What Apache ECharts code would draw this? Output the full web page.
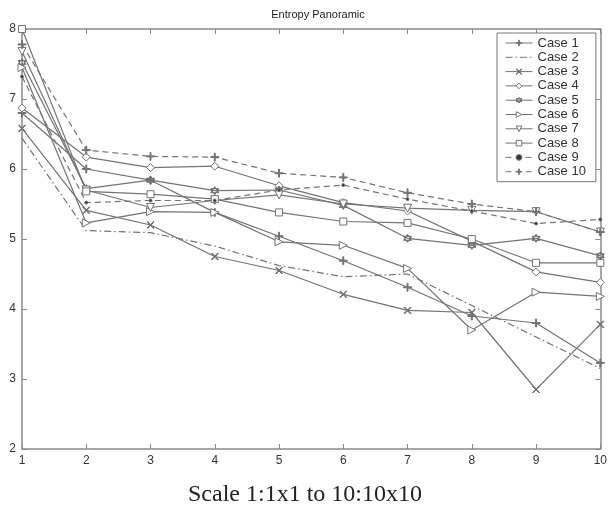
<!DOCTYPE html>
<html>
<head>
<meta charset="utf-8">
<script src="https://cdn.jsdelivr.net/npm/echarts@6/dist/echarts.min.js"></script>
<style>
  html, body { margin: 0; padding: 0; background: #fff; }
  #main { width: 610px; height: 521px; }
</style>
</head>
<body>
<div id="main"></div>
<script>
// scale steps on the x axis
var steps = [1, 2, 3, 4, 5, 6, 7, 8, 9, 10];
var yTicks = [2, 3, 4, 5, 6, 7, 8];
var caseNames = ['Case 1', 'Case 2', 'Case 3', 'Case 4', 'Case 5', 'Case 6', 'Case 7', 'Case 8', 'Case 9', 'Case 10'];

var case1 = [6.80, 6.00, 5.84, 5.38, 5.04, 4.69, 4.31, 3.90, 3.80, 3.23];
var case2 = [6.44, 5.12, 5.09, 4.90, 4.62, 4.46, 4.50, 4.05, 3.60, 3.15];
var case3 = [6.58, 5.41, 5.20, 4.75, 4.55, 4.21, 3.98, 3.95, 2.85, 3.78];
var case4 = [6.87, 6.17, 6.02, 6.04, 5.76, 5.52, 5.40, 4.97, 4.53, 4.38];
var case5 = [7.52, 5.72, 5.84, 5.69, 5.70, 5.48, 5.01, 4.91, 5.01, 4.76];
var case6 = [7.45, 5.23, 5.39, 5.38, 4.96, 4.91, 4.58, 3.70, 4.24, 4.18];
var case7 = [7.68, 5.70, 5.45, 5.55, 5.63, 5.50, 5.44, 5.41, 5.39, 5.10];
var case8 = [8.00, 5.68, 5.64, 5.57, 5.38, 5.25, 5.23, 5.00, 4.66, 4.66];
var case9 = [7.32, 5.52, 5.55, 5.55, 5.70, 5.77, 5.57, 5.40, 5.22, 5.28];
var case10 = [7.78, 6.27, 6.18, 6.17, 5.94, 5.88, 5.66, 5.50, 5.39, 5.10];

var lineCol = '#737373';
var axisCol = '#8a8a8a';

// marker shapes (matlab style)
var plusPath = 'path://M-5,-0.6H5V0.6H-5Z M-0.6,-5H0.6V5H-0.6Z';
var crossPath = 'path://M-5,-4.2L-4.2,-5L5,4.2L4.2,5Z M4.2,-5L5,-4.2L-4.2,5L-5,4.2Z';
var hexPath = 'path://M0,-10L8.66,5L-8.66,5Z M0,10L8.66,-5L-8.66,-5Z';

var allCases = [case1, case2, case3, case4, case5, case6, case7, case8, case9, case10];
var looks = [
  { symbol: plusPath, size: 8, dash: 'solid', fill: lineCol },
  { symbol: 'circle', size: 1, dash: [7, 3, 1.5, 3], fill: 'rgba(0,0,0,0)', hide: true },
  { symbol: crossPath, size: 7, dash: 'solid', fill: lineCol },
  { symbol: 'diamond', size: 8, dash: 'solid', fill: '#fff' },
  { symbol: hexPath, size: 8, dash: 'solid', fill: '#555' },
  { symbol: 'triangle', size: 8, dash: 'solid', fill: '#fff', rotate: -90 },
  { symbol: 'triangle', size: 8, dash: 'solid', fill: '#fff', rotate: 180 },
  { symbol: 'rect', size: 7, dash: 'solid', fill: '#fff' },
  { symbol: 'circle', size: 3, dash: [6, 4], fill: '#333' },
  { symbol: plusPath, size: 8, dash: [6, 4], fill: lineCol }
];

var series = allCases.map(function (vals, i) {
  var lk = looks[i];
  return {
    name: caseNames[i],
    type: 'line',
    data: vals.map(function (v, j) { return [steps[j], v]; }),
    symbol: lk.symbol,
    symbolSize: lk.size,
    symbolRotate: lk.rotate || 0,
    showSymbol: !lk.hide,
    lineStyle: { color: lineCol, width: 1.2, type: lk.dash },
    itemStyle: { color: lk.fill, borderColor: lk.hide ? 'rgba(0,0,0,0)' : lineCol, borderWidth: lk.hide ? 0 : 1 },
    emphasis: { disabled: true },
    animation: false,
    z: 3
  };
});

var chart = echarts.init(document.getElementById('main'));
chart.setOption({
  backgroundColor: '#fff',
  animation: false,
  title: {
    text: 'Entropy Panoramic',
    left: 313, top: 4, textAlign: 'center',
    textStyle: { fontSize: 11, fontWeight: 'normal', color: '#222', fontFamily: 'Liberation Sans' }
  },
  grid: { left: 22, right: 6, top: 29, bottom: 72, containLabel: false },
  legend: {
    orient: 'vertical',
    left: 497, top: 33,
    padding: [3, 10, 3, 8],
    itemWidth: 27, itemHeight: 7, itemGap: 0.3,
    backgroundColor: '#fff',
    borderColor: '#777', borderWidth: 1,
    lineStyle: { width: 1 },
    itemStyle: { borderWidth: 1 },
    textStyle: { fontSize: 13, lineHeight: 14, color: '#333', fontFamily: 'Liberation Sans' },
    data: caseNames
  },
  xAxis: [{
    type: 'value', min: 1, max: 10, interval: 1,
    axisLine: { lineStyle: { color: axisCol, width: 1.5 } },
    axisTick: { inside: true, length: 5, lineStyle: { color: axisCol } },
    axisLabel: { fontSize: 12, color: '#333', margin: 6, fontFamily: 'Liberation Sans' },
    splitLine: { show: false }
  }, {
    type: 'value', min: 1, max: 10, interval: 1, position: 'top',
    axisLine: { lineStyle: { color: axisCol, width: 1.5 } },
    axisTick: { inside: true, length: 5, lineStyle: { color: axisCol } },
    axisLabel: { show: false },
    splitLine: { show: false }
  }],
  yAxis: [{
    type: 'value', min: yTicks[0], max: yTicks[yTicks.length - 1], interval: 1,
    axisLine: { show: true, lineStyle: { color: axisCol, width: 1.5 } },
    axisTick: { show: true, inside: true, length: 5, lineStyle: { color: axisCol } },
    axisLabel: { fontSize: 12, color: '#333', margin: 6, fontFamily: 'Liberation Sans' },
    splitLine: { show: false }
  }, {
    type: 'value', min: yTicks[0], max: yTicks[yTicks.length - 1], interval: 1, position: 'right',
    axisLine: { show: true, lineStyle: { color: axisCol, width: 1.5 } },
    axisTick: { show: true, inside: true, length: 5, lineStyle: { color: axisCol } },
    axisLabel: { show: false },
    splitLine: { show: false }
  }],
  graphic: [{
    type: 'text', left: 'center', top: 483,
    style: { text: 'Scale 1:1x1 to 10:10x10', fontSize: 24, fontFamily: 'Liberation Serif', fill: '#222' }
  }],
  series: series
});
</script>
</body>
</html>
